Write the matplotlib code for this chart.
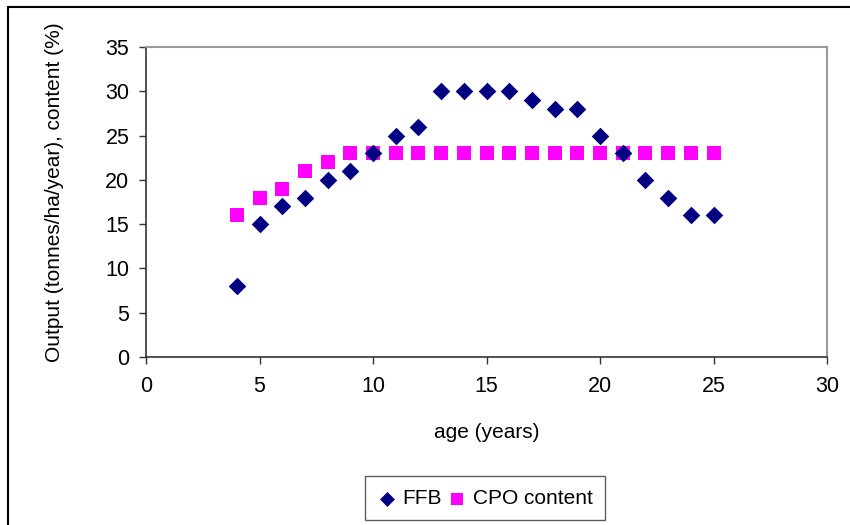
import matplotlib
matplotlib.use('Agg')

import matplotlib.pyplot as plt
from matplotlib.patches import Rectangle

# Palm yield by age
AGE = list(range(4, 26))
FFB = [8, 15, 17, 18, 20, 21, 23, 25, 26, 30, 30, 30, 30, 29, 28, 28, 25, 23, 20, 18, 16, 16]
CPO = [16, 18, 19, 21, 22, 23, 23, 23, 23, 23, 23, 23, 23, 23, 23, 23, 23, 23, 23, 23, 23, 23]

X_TICKS = [0, 5, 10, 15, 20, 25, 30]
Y_TICKS = [0, 5, 10, 15, 20, 25, 30, 35]

COLOR_FFB = '#000080'
COLOR_CPO = '#FF00FF'

FONT_SIZE = 15

plt.rcParams['font.family'] = ['Liberation Sans', 'DejaVu Sans']
plt.rcParams['font.size'] = FONT_SIZE


def main():
    fig = plt.figure(figsize=(8.5, 5.25), dpi=100)
    ax = fig.add_axes([0.1718, 0.320, 0.8012, 0.5905])

    ax.scatter(AGE, CPO, marker='s', s=95, color=COLOR_CPO, linewidths=0,
               label='CPO content', zorder=3)
    ax.scatter(AGE, FFB, marker='D', s=80, color=COLOR_FFB, linewidths=0,
               label='FFB', zorder=4)

    ax.set_xlim(0, 30)
    ax.set_ylim(0, 35)
    ax.set_xticks(X_TICKS)
    ax.set_yticks(Y_TICKS)
    ax.tick_params(direction='out', length=5, width=1, color='#333333',
                   labelsize=15.5)
    ax.tick_params(axis='x', pad=9)
    ax.tick_params(axis='y', pad=7)

    for side in ('top', 'right'):
        ax.spines[side].set_color('#999999')
        ax.spines[side].set_linewidth(1.5)
    for side in ('left', 'bottom'):
        ax.spines[side].set_color('#333333')
        ax.spines[side].set_linewidth(1.2)

    ax.set_xlabel('age (years)', fontsize=FONT_SIZE)
    ax.set_ylabel('Output (tonnes/ha/year), content (%)', fontsize=FONT_SIZE)
    ax.xaxis.set_label_coords(0.5, -0.212)
    ax.yaxis.set_label_coords(-0.121, 0.532)

    handles, labels = ax.get_legend_handles_labels()
    leg = fig.legend(handles[::-1], labels[::-1], loc='center',
                     bbox_to_anchor=(0.5706, 0.0505), ncol=2, frameon=True,
                     fancybox=False, edgecolor='#333333', fontsize=FONT_SIZE,
                     handletextpad=0.3, columnspacing=0.3, handlelength=0.9,
                     borderpad=0.6, borderaxespad=0.2, markerscale=0.85)
    leg.get_frame().set_linewidth(1.0)

    # Outer chart border (top and left edges visible)
    fig.add_artist(Rectangle((8 / 850, -0.1), 1.2, 1.1 - 7 / 525,
                             transform=fig.transFigure, fill=False,
                             edgecolor='black', linewidth=1.5))

    fig.savefig('out.png', dpi=100, facecolor='white')
    plt.close(fig)


if __name__ == '__main__':
    main()
